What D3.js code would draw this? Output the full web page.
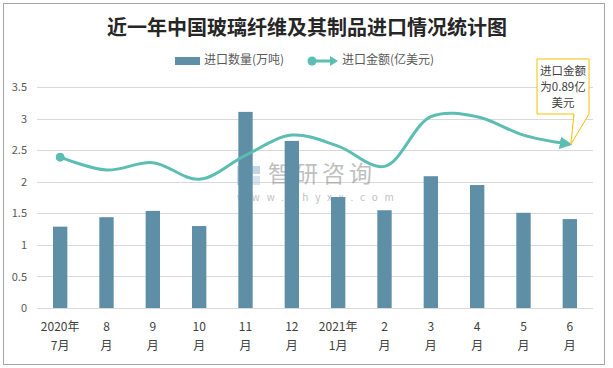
<!DOCTYPE html>
<html>
<head>
<meta charset="utf-8">
<script src="https://cdnjs.cloudflare.com/ajax/libs/d3/7.8.5/d3.min.js"></script>
<style>
  html, body { margin: 0; padding: 0; background: #fff; }
  svg { display: block; }
</style>
</head>
<body>
<svg id="chart" width="613" height="368"></svg>
<script>
const categories = ["2020年\n7月", "8\n月", "9\n月", "10\n月", "11\n月", "12\n月", "2021年\n1月", "2\n月", "3\n月", "4\n月", "5\n月", "6\n月"];
const volume = [1.29, 1.44, 1.54, 1.30, 3.11, 2.65, 1.76, 1.55, 2.09, 1.95, 1.51, 1.41];   // 万吨
const amount = [0.82, 0.75, 0.79, 0.70, 0.83, 0.94, 0.88, 0.77, 1.04, 1.04, 0.94, 0.89];   // 亿美元
const yTicks = [0, 0.5, 1, 1.5, 2, 2.5, 3, 3.5];
const title = "近一年中国玻璃纤维及其制品进口情况统计图";
const legendLabels = ["进口数量(万吨)", "进口金额(亿美元)"];
const calloutLines = ["进口金额", "为0.89亿", "美元"];

const barColor = "#5f8fa6";
const lineColor = "#5cbdb3";
const font = "'Microsoft YaHei', 'Noto Sans CJK SC', sans-serif";

const svg = d3.select("#chart");

// outer border
svg.append("rect").attr("x", 3.5).attr("y", 3.5).attr("width", 601).attr("height", 361)
  .attr("fill", "#fff").attr("stroke", "#a6a6a6").attr("stroke-width", 1);

// title
svg.append("text").attr("x", 307).attr("y", 30).attr("text-anchor", "middle")
  .attr("dominant-baseline", "middle")
  .attr("font-family", "'Noto Sans CJK SC', serif").attr("font-weight", "bold")
  .attr("font-size", 20).attr("fill", "#262626").text(title);

const x = d3.scaleBand().domain(d3.range(categories.length)).range([37, 593])
  .paddingInner(0.69).paddingOuter(0.345);
const y = d3.scaleLinear().domain([0, 3.5]).range([308, 87.3]);
const y2 = d3.scaleLinear().domain([0, 1.2]).range([308, 87.3]);

// gridlines
svg.append("g").selectAll("line").data(yTicks).join("line")
  .attr("x1", 37).attr("x2", 593)
  .attr("y1", d => Math.round(y(d)) + 0.5).attr("y2", d => Math.round(y(d)) + 0.5)
  .attr("stroke", "#d9d9d9").attr("stroke-width", 1);

// y axis labels
const yAxis = d3.axisLeft(y).tickValues(yTicks).tickSize(0).tickPadding(0)
  .tickFormat(d => d3.format("")(d));
const gy = svg.append("g").attr("transform", "translate(27,0)").call(yAxis);
gy.select(".domain").remove();
gy.selectAll("text").attr("font-family", font).attr("font-size", 11).attr("fill", "#595959");

// watermark
const wm = svg.append("g").attr("opacity", 0.55);
wm.append("rect").attr("x", 237).attr("y", 166).attr("width", 10).attr("height", 19).attr("fill", "#a9bfd6");
wm.append("rect").attr("x", 249).attr("y", 166).attr("width", 11).attr("height", 8).attr("fill", "#8fb3d9");
wm.append("rect").attr("x", 249).attr("y", 176).attr("width", 11).attr("height", 9).attr("fill", "#b9cde2");
wm.append("text").attr("x", 268).attr("y", 176).attr("dominant-baseline", "middle")
  .attr("font-family", font).attr("font-size", 23).attr("fill", "#8c8c8c")
  .attr("letter-spacing", 4).text("智研咨询");
wm.append("text").attr("x", 237).attr("y", 198).attr("dominant-baseline", "middle")
  .attr("font-family", font).attr("font-size", 10).attr("fill", "#8c8c8c")
  .attr("letter-spacing", 6.8).text("www.chyxx.com");

// bars
svg.append("g").selectAll("rect").data(volume).join("rect")
  .attr("x", (d, i) => x(i)).attr("width", x.bandwidth())
  .attr("y", d => y(d)).attr("height", d => y(0) - y(d))
  .attr("fill", barColor);

// markers
const defs = svg.append("defs");
defs.append("marker").attr("id", "arrow").attr("viewBox", "0 0 10 10")
  .attr("refX", 8).attr("refY", 5).attr("markerWidth", 4.2).attr("markerHeight", 4.2)
  .attr("orient", "auto").attr("markerUnits", "strokeWidth")
  .append("path").attr("d", "M0,0 L10,5 L0,10 Z").attr("fill", lineColor);
defs.append("marker").attr("id", "dot").attr("viewBox", "0 0 10 10")
  .attr("refX", 5).attr("refY", 5).attr("markerWidth", 3).attr("markerHeight", 3)
  .attr("markerUnits", "strokeWidth")
  .append("circle").attr("cx", 5).attr("cy", 5).attr("r", 5).attr("fill", lineColor);

// line
const line = d3.line()
  .x((d, i) => x(i) + x.bandwidth() / 2)
  .y(d => y2(d))
  .curve(d3.curveCatmullRom.alpha(0.5));
svg.append("path").datum(amount).attr("d", line)
  .attr("fill", "none").attr("stroke", lineColor).attr("stroke-width", 3)
  .attr("marker-start", "url(#dot)").attr("marker-end", "url(#arrow)");

// x labels
const gx = svg.append("g");
categories.forEach((c, i) => {
  const parts = c.split("\n");
  const t = gx.append("text").attr("x", x(i) + x.bandwidth() / 2).attr("y", 331)
    .attr("text-anchor", "middle").attr("font-family", font).attr("font-size", 12)
    .attr("fill", "#404040");
  t.append("tspan").attr("x", x(i) + x.bandwidth() / 2).attr("dy", 0).text(parts[0]);
  t.append("tspan").attr("x", x(i) + x.bandwidth() / 2).attr("dy", 19).text(parts[1]);
});

// legend
const lg = svg.append("g");
lg.append("rect").attr("x", 175).attr("y", 57).attr("width", 25).attr("height", 8).attr("fill", barColor);
lg.append("text").attr("x", 204).attr("y", 61).attr("dominant-baseline", "middle")
  .attr("font-family", font).attr("font-size", 12).attr("fill", "#595959").text(legendLabels[0]);
lg.append("line").attr("x1", 311).attr("x2", 332).attr("y1", 61).attr("y2", 61)
  .attr("stroke", lineColor).attr("stroke-width", 3);
lg.append("circle").attr("cx", 312).attr("cy", 61).attr("r", 4.5).attr("fill", lineColor);
lg.append("path").attr("d", "M330,56 L338,61 L330,66 Z").attr("fill", lineColor);
lg.append("text").attr("x", 342).attr("y", 61).attr("dominant-baseline", "middle")
  .attr("font-family", font).attr("font-size", 12).attr("fill", "#595959").text(legendLabels[1]);

// callout
const last = amount.length - 1;
const px = x(last) + x.bandwidth() / 2, py = y2(amount[last]);
const bx0 = 537, bx1 = 589, by0 = 59, by1 = 114;
svg.append("path")
  .attr("d", `M${bx0},${by0} L${bx1},${by0} L${bx1},${by1} L${px + 1},${py} L${574},${by1} L${bx0},${by1} Z`)
  .attr("fill", "#fff").attr("stroke", "#f5c000").attr("stroke-width", 1);
calloutLines.forEach((s, i) => {
  svg.append("text").attr("x", 563).attr("y", 72 + i * 16).attr("text-anchor", "middle")
    .attr("dominant-baseline", "middle").attr("font-family", font).attr("font-size", 11.5)
    .attr("fill", "#404040").text(s);
});
</script>
</body>
</html>
